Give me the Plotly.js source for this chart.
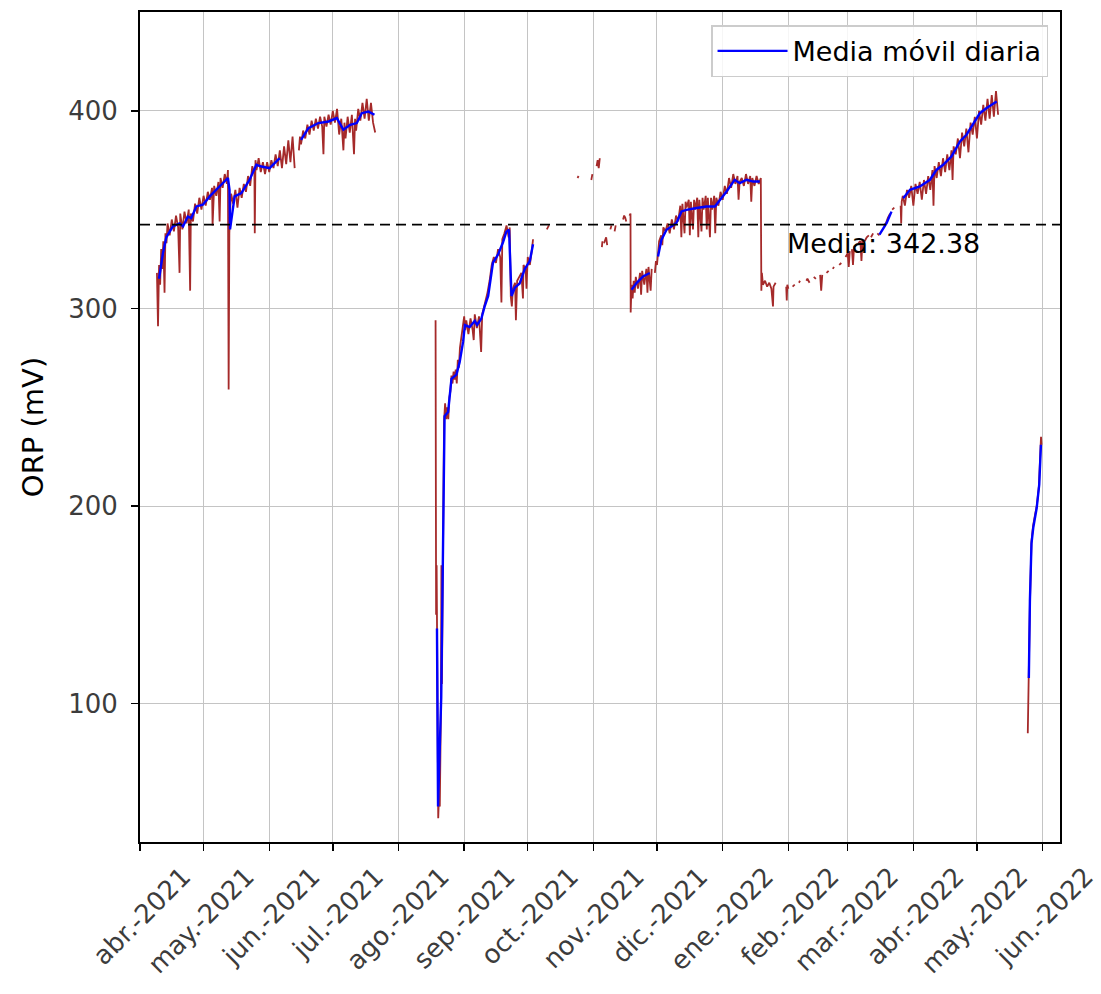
<!DOCTYPE html>
<html>
<head>
<meta charset="utf-8">
<script src="https://cdn.plot.ly/plotly-3.0.1.min.js"></script>
<style>html,body{margin:0;padding:0;background:#fff;}#chart{width:1101px;height:994px;}</style>
</head>
<body>
<div id="chart"></div>
<script>
// ---- Data ----
const meanValue = 342.38;

const tickDates = ['2021-04-01','2021-05-01','2021-06-01','2021-07-01','2021-08-01','2021-09-01','2021-10-01','2021-11-01','2021-12-01','2022-01-01','2022-02-01','2022-03-01','2022-04-01','2022-05-01','2022-06-01'];
const tickLabels = ['abr.-2021','may.-2021','jun.-2021','jul.-2021','ago.-2021','sep.-2021','oct.-2021','nov.-2021','dic.-2021','ene.-2022','feb.-2022','mar.-2022','abr.-2022','may.-2022','jun.-2022'];

// raw ORP readings (red), segment 1: Apr - mid Jun 2021
const raw1Dates = ['2021-04-09 00','2021-04-09 12','2021-04-10 00','2021-04-10 12','2021-04-11 00','2021-04-11 12','2021-04-12 00','2021-04-12 14','2021-04-13 00','2021-04-13 12','2021-04-14','2021-04-15','2021-04-16','2021-04-17','2021-04-18','2021-04-19','2021-04-19 16','2021-04-20','2021-04-21','2021-04-22','2021-04-23','2021-04-24','2021-04-24 16','2021-04-25','2021-04-26','2021-04-27','2021-04-28','2021-04-29','2021-04-30','2021-05-01','2021-05-02','2021-05-03','2021-05-04','2021-05-05','2021-05-05 06','2021-05-06','2021-05-07','2021-05-08','2021-05-08 14','2021-05-09','2021-05-10','2021-05-11','2021-05-12','2021-05-12 12','2021-05-12 20','2021-05-13 04','2021-05-13 16','2021-05-14','2021-05-15','2021-05-16','2021-05-17','2021-05-18','2021-05-19','2021-05-20','2021-05-21','2021-05-22','2021-05-23','2021-05-24','2021-05-25','2021-05-25 04','2021-05-25 12','2021-05-26','2021-05-27','2021-05-28','2021-05-29','2021-05-30','2021-05-31','2021-06-01','2021-06-02','2021-06-03','2021-06-04','2021-06-05','2021-06-06','2021-06-07','2021-06-08','2021-06-09','2021-06-10','2021-06-11','2021-06-12','2021-06-13'];
const raw1Values = [318,291,322,312,330,320,334,308,338,333,343,337,345,339,347,341,318,348,340,349,343,350,309,348,344,353,348,356,350,357,352,359,355,361,342,362,357,364,344,366,361,368,363,370,259,338,352,358,353,360,351,361,356,363,359,367,362,372,368,338,375,370,376,369,374,368,374,369,375,371,378,372,380,371,382,373,385,374,387,371];

// segment 2: mid Jun - Jul 2021
const raw2Dates = ['2021-06-15','2021-06-15 12','2021-06-16','2021-06-17','2021-06-18','2021-06-19','2021-06-20','2021-06-21','2021-06-22','2021-06-23','2021-06-24','2021-06-25','2021-06-26','2021-06-26 14','2021-06-27','2021-06-28','2021-06-29','2021-06-30','2021-07-01','2021-07-02','2021-07-03','2021-07-04','2021-07-05','2021-07-06','2021-07-06 12','2021-07-07','2021-07-08','2021-07-09','2021-07-10','2021-07-11','2021-07-11 12','2021-07-12','2021-07-13','2021-07-14','2021-07-15','2021-07-16','2021-07-17','2021-07-18','2021-07-19','2021-07-20','2021-07-21'];
const raw2Values = [380,387,383,390,386,393,388,395,390,396,391,397,392,378,397,392,398,393,400,394,401,388,396,380,394,386,397,389,398,378,396,390,401,395,404,396,406,395,404,394,389];

// segment 3: Aug - Oct 2021
const raw3Dates = ['2021-08-18 12','2021-08-18 14','2021-08-18 18','2021-08-19 00','2021-08-19 06','2021-08-19 12','2021-08-19 18','2021-08-20 00','2021-08-20 12','2021-08-21 00','2021-08-21 06','2021-08-21 12','2021-08-22 00','2021-08-22 12','2021-08-23 00','2021-08-23 12','2021-08-24 00','2021-08-24 12','2021-08-25 00','2021-08-25 12','2021-08-26 00','2021-08-26 12','2021-08-27 00','2021-08-27 12','2021-08-28 00','2021-08-28 12','2021-08-29 00','2021-08-29 12','2021-08-30 00','2021-08-31 00','2021-08-31 12','2021-09-01','2021-09-01 12','2021-09-02','2021-09-03','2021-09-04','2021-09-05','2021-09-05 12','2021-09-06','2021-09-07','2021-09-08','2021-09-09','2021-09-09 12','2021-09-10','2021-09-11','2021-09-12','2021-09-13','2021-09-14','2021-09-15','2021-09-16','2021-09-17','2021-09-18','2021-09-18 14','2021-09-19','2021-09-20','2021-09-21','2021-09-22','2021-09-22 12','2021-09-23','2021-09-23 12','2021-09-24','2021-09-25','2021-09-25 10','2021-09-26','2021-09-27','2021-09-28','2021-09-28 18','2021-09-29','2021-09-30','2021-09-30 10','2021-10-01','2021-10-02','2021-10-03','2021-10-03 12','2021-10-06','2021-10-10','2021-10-11'];
const raw3Values = [294,210,145,170,130,60,42,50,48,95,170,110,200,243,252,244,250,244,255,258,266,262,268,264,269,262,274,270,280,287,292,296,289,294,287,295,289,284,297,290,296,278,297,299,303,308,314,322,326,323,330,326,303,335,338,342,336,341,306,301,310,313,294,314,316,318,305,322,320,310,326,322,330,335,null,340,342];

// segment 4: scattered Oct/Nov 2021 readings, Nov 2021 - Jan 2022
const raw4Dates = ['2021-10-24 12','2021-10-25','2021-10-28','2021-10-31','2021-10-31 12','2021-11-01','2021-11-02 12','2021-11-03','2021-11-03 12','2021-11-04','2021-11-04 12','2021-11-05','2021-11-05 06','2021-11-05 12','2021-11-06','2021-11-07','2021-11-07 12','2021-11-08','2021-11-09','2021-11-09 12','2021-11-10','2021-11-11','2021-11-11 12','2021-11-12','2021-11-13','2021-11-15','2021-11-15 12','2021-11-16','2021-11-16 12','2021-11-17','2021-11-18 00','2021-11-18 12','2021-11-18 14','2021-11-19','2021-11-19 12','2021-11-20','2021-11-20 12','2021-11-21','2021-11-22','2021-11-23','2021-11-23 12','2021-11-24','2021-11-25','2021-11-26','2021-11-26 12','2021-11-27','2021-11-28','2021-11-28 12','2021-11-29','2021-11-30','2021-11-30 12','2021-12-01','2021-12-01 12','2021-12-02','2021-12-03','2021-12-03 12','2021-12-04','2021-12-05','2021-12-06','2021-12-07','2021-12-08','2021-12-09','2021-12-10','2021-12-11','2021-12-12','2021-12-12 12','2021-12-13','2021-12-14','2021-12-14 12','2021-12-15','2021-12-16','2021-12-16 12','2021-12-17','2021-12-18','2021-12-18 12','2021-12-19','2021-12-20','2021-12-20 12','2021-12-21','2021-12-22','2021-12-22 12','2021-12-23','2021-12-24','2021-12-24 12','2021-12-25','2021-12-26','2021-12-26 12','2021-12-27','2021-12-28','2021-12-28 12','2021-12-29','2021-12-30','2021-12-31','2022-01-01','2022-01-02','2022-01-03','2022-01-04','2022-01-05','2022-01-06','2022-01-07','2022-01-08','2022-01-08 12','2022-01-09','2022-01-10','2022-01-11','2022-01-12','2022-01-13','2022-01-14','2022-01-14 12','2022-01-15','2022-01-16','2022-01-17','2022-01-18','2022-01-19','2022-01-19 06','2022-01-19 12','2022-01-20','2022-01-21','2022-01-22','2022-01-23','2022-01-24','2022-01-24 18','2022-01-25','2022-01-26'];
const raw4Values = [366,367,null,365,368,null,372,375,371,376,null,331,334,null,333,336,332,null,340,342,null,339,342,null,null,345,347,346,344,null,347,348,298,312,305,314,308,316,310,318,307,319,312,320,308,321,309,320,null,318,324,322,330,334,337,332,341,339,343,338,345,340,347,344,352,336,353,338,354,351,355,337,354,340,355,350,356,336,355,339,356,350,357,340,356,336,356,350,357,338,356,352,359,355,362,358,366,361,368,363,367,355,364,366,362,368,363,367,354,366,362,367,363,366,309,318,312,314,311,313,310,301,311,313];

// segment 5: sparse Feb - Mar 2022, then Mar - May 2022
const raw5Dates = ['2022-01-31','2022-01-31 06','2022-01-31 12','2022-02-01','2022-02-02','2022-02-03','2022-02-04','2022-02-05','2022-02-06','2022-02-06 12','2022-02-08','2022-02-09 12','2022-02-10','2022-02-11','2022-02-12','2022-02-13','2022-02-14','2022-02-15','2022-02-16','2022-02-16 12','2022-02-17','2022-02-18','2022-02-19','2022-02-20','2022-02-21','2022-02-22','2022-02-22 12','2022-02-23','2022-02-24','2022-02-24 06','2022-02-24 12','2022-02-25','2022-02-26','2022-02-27','2022-02-28','2022-03-01','2022-03-01 12','2022-03-02','2022-03-02 12','2022-03-03','2022-03-03 12','2022-03-04','2022-03-05','2022-03-05 12','2022-03-06','2022-03-07','2022-03-07 12','2022-03-08','2022-03-08 12','2022-03-09','2022-03-10','2022-03-11','2022-03-11 12','2022-03-12','2022-03-13','2022-03-14','2022-03-15','2022-03-16','2022-03-17','2022-03-18','2022-03-19','2022-03-20','2022-03-21','2022-03-21 12','2022-03-22','2022-03-23','2022-03-24','2022-03-26','2022-03-26 06','2022-03-26 12','2022-03-27','2022-03-28','2022-03-29','2022-03-30','2022-03-31','2022-04-01','2022-04-02','2022-04-03','2022-04-04','2022-04-05','2022-04-06','2022-04-07','2022-04-08','2022-04-09','2022-04-10','2022-04-10 12','2022-04-11','2022-04-12','2022-04-13','2022-04-14','2022-04-15','2022-04-16','2022-04-17','2022-04-18','2022-04-19','2022-04-19 12','2022-04-20','2022-04-21','2022-04-22','2022-04-23','2022-04-24','2022-04-25','2022-04-26','2022-04-27','2022-04-28','2022-04-29','2022-04-30','2022-05-01','2022-05-02','2022-05-03','2022-05-04','2022-05-05','2022-05-06','2022-05-07','2022-05-08','2022-05-09','2022-05-10','2022-05-11'];
const raw5Values = [311,304,312,310,null,311,312,null,313,314,null,314,315,313,null,316,315,null,317,309,317,null,318,319,null,320,321,null,null,311,null,322,323,null,326,328,321,329,null,330,322,331,332,null,333,334,324,335,null,334,336,337,null,336,338,null,338,337,null,342,343,346,348,null,350,351,null,352,343,354,357,352,360,356,362,352,363,358,364,355,365,358,367,360,370,352,372,366,374,367,376,369,378,370,380,365,382,378,386,376,389,382,391,379,394,388,397,386,400,393,403,395,406,396,408,397,410,398];

// segment 6: end of May 2022
const raw6Dates = ['2022-05-25 00','2022-05-25 06','2022-05-25 12','2022-05-26','2022-05-26 18','2022-05-27 12','2022-05-28 12','2022-05-29 06','2022-05-30 06','2022-05-31','2022-05-31 06','2022-05-31 12'];
const raw6Values = [85,110,113,150,182,190,196,200,210,228,235,231];

// daily moving average (blue)
const avg1Dates = ['2021-04-10','2021-04-11 20','2021-04-13 10','2021-04-16 12','2021-04-19 16','2021-04-21 08','2021-04-23 14','2021-04-25 04','2021-04-27 14','2021-04-30 16','2021-05-03 22','2021-05-07','2021-05-10 02','2021-05-12 12','2021-05-13 06','2021-05-13 12','2021-05-15 16','2021-05-18 20','2021-05-22 16','2021-05-25 22','2021-05-28 08','2021-06-01 04','2021-06-05 02','2021-06-06'];
const avg1Values = [315,328,336,341.5,343,341.5,346.5,345.7,351.6,352.5,356.7,360,363.4,366,360,340,356.7,358.4,365,372.7,371.8,371,375.2,376];
const avg2Dates = ['2021-06-16','2021-06-19 12','2021-06-24 04','2021-06-29','2021-07-02 22','2021-07-06','2021-07-09 04','2021-07-12 08','2021-07-14 16','2021-07-17 20','2021-07-20 16'];
const avg2Values = [385.3,391.2,393.8,394.6,396.3,390.4,392.9,393.8,398.8,399.6,398];
const avg3Dates = ['2021-08-19 04','2021-08-19 16','2021-08-21 04','2021-08-22 18','2021-08-24 10','2021-08-26','2021-08-28 08','2021-08-29 20','2021-08-31 12','2021-09-01 08','2021-09-03 14','2021-09-06','2021-09-07 02','2021-09-09 02','2021-09-10 16','2021-09-12 08','2021-09-14 14','2021-09-17','2021-09-19 08','2021-09-20 22','2021-09-22 04','2021-09-23 08','2021-09-24 22','2021-09-27 04','2021-09-29 14','2021-10-02','2021-10-03 12'];
const avg3Values = [138,48,103,245.5,247.6,264.4,266.5,272.7,283.2,291.6,290.6,293.7,291.6,294.8,301,306.3,323.1,327.3,333.5,338.8,339.8,306.3,310.5,312.6,319.9,324.1,332.5];
const avg4Dates = ['2021-11-19','2021-11-21 08','2021-11-24 10','2021-11-27 14'];
const avg4Values = [309.5,312.8,316.2,317.9];
const avg5Dates = ['2021-12-01 12','2021-12-03 02','2021-12-05 12','2021-12-07 20','2021-12-10 04','2021-12-12 14','2021-12-14 22','2021-12-19 16','2021-12-24 10','2021-12-28 08','2021-12-31 12','2022-01-02 20','2022-01-06 16','2022-01-09 02','2022-01-12 08','2022-01-15 10','2022-01-18 12'];
const avg5Values = [326.3,334.7,339.8,341.5,343.2,349.1,349.9,350.8,351.6,351.6,355.8,359.2,365.1,363.4,365.1,364.2,364.2];
const avg6Dates = ['2022-03-16','2022-03-19 10','2022-03-21 16'];
const avg6Values = [337.3,343.3,349];
const avg7Dates = ['2022-03-27 05','2022-03-30 10','2022-04-04 02','2022-04-08 20','2022-04-12','2022-04-15 02','2022-04-19','2022-04-23','2022-04-26 02','2022-04-29 08','2022-05-02 10','2022-05-05 14','2022-05-10 08'];
const avg7Values = [355.8,360,361.7,365.1,370.2,372.7,376.9,384.5,387.9,393.8,398.8,401.4,404.7];
const avg8Dates = ['2022-05-25 12','2022-05-26','2022-05-26 18','2022-05-27 14','2022-05-29 05','2022-05-30 10','2022-05-31 05'];
const avg8Values = [113,152,181,189,199,211,231];

// ---- Build traces (segments joined with gaps) ----
function join(pairs){
  const x = [], y = [];
  pairs.forEach((p, i) => {
    if (i > 0) { x.push(null); y.push(null); }
    p[0].forEach(d => x.push(d));
    p[1].forEach(v => y.push(v));
  });
  return {x, y};
}
const raw = join([[raw1Dates,raw1Values],[raw2Dates,raw2Values],[raw3Dates,raw3Values],[raw4Dates,raw4Values],[raw5Dates,raw5Values],[raw6Dates,raw6Values]]);
const avg = join([[avg1Dates,avg1Values],[avg2Dates,avg2Values],[avg3Dates,avg3Values],[avg4Dates,avg4Values],[avg5Dates,avg5Values],[avg6Dates,avg6Values],[avg7Dates,avg7Values],[avg8Dates,avg8Values]]);

const traces = [
  {x: raw.x, y: raw.y, type: 'scatter', mode: 'lines', connectgaps: false,
   line: {color: '#a52a2a', width: 1.8}, showlegend: false, hoverinfo: 'skip'},
  {x: avg.x, y: avg.y, type: 'scatter', mode: 'lines', connectgaps: false,
   line: {color: '#0000ff', width: 2.4}, name: 'Media móvil diaria'}
];

const FONT = 'DejaVu Sans, sans-serif';
const layout = {
  width: 1101, height: 994,
  margin: {l: 140, r: 41, t: 12, b: 152},
  paper_bgcolor: '#ffffff', plot_bgcolor: '#ffffff',
  font: {family: FONT, size: 26, color: '#000'},
  showlegend: true,
  legend: {x: 0.987, xanchor: 'right', y: 0.984, yanchor: 'top',
           bgcolor: 'rgba(255,255,255,0.85)', bordercolor: '#cccccc', borderwidth: 1.5,
           itemwidth: 70,
           font: {family: FONT, size: 27, color: '#000'}},
  xaxis: {type: 'date', range: ['2021-04-01', '2022-06-09 05'],
          tickmode: 'array', tickvals: tickDates, ticktext: tickLabels,
          tickangle: -45, ticks: 'outside', ticklen: 7, tickwidth: 1.5, tickcolor: '#000',
          ticklabelshift: 43, ticklabelstandoff: 0, ticklabeloverflow: 'allow',
          tickfont: {family: FONT, size: 26, color: '#3c3c3c'},
          showgrid: true, gridcolor: '#c4c4c4', gridwidth: 1,
          showline: true, linecolor: '#000', linewidth: 2, mirror: true, zeroline: false},
  yaxis: {range: [30, 450], tickvals: [100, 200, 300, 400],
          ticks: 'outside', ticklen: 7, tickwidth: 1.5, tickcolor: '#000',
          ticklabelstandoff: 8,
          tickfont: {family: FONT, size: 26, color: '#3c3c3c'},
          showgrid: true, gridcolor: '#c4c4c4', gridwidth: 1,
          showline: true, linecolor: '#000', linewidth: 2, mirror: true, zeroline: false,
          title: {text: 'ORP (mV)', font: {family: FONT, size: 29, color: '#000'}, standoff: 16}},
  shapes: [{type: 'line', xref: 'paper', x0: 0, x1: 1, yref: 'y', y0: meanValue, y1: meanValue,
            line: {color: '#000', width: 1.8, dash: '10px,6px'}}],
  annotations: [{xref: 'x', yref: 'y', x: '2022-02-01', y: 332.7, xanchor: 'left', yanchor: 'middle',
                 text: 'Media: ' + meanValue.toFixed(2), showarrow: false, xshift: -3,
                 font: {family: FONT, size: 27, color: '#000'}}]
};

Plotly.newPlot('chart', traces, layout, {staticPlot: true, displayModeBar: false});
</script>
</body>
</html>
